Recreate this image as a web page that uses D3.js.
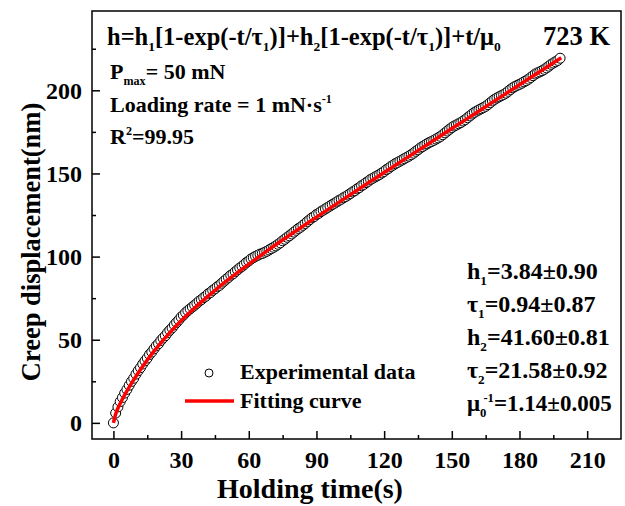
<!DOCTYPE html>
<html>
<head>
<meta charset="utf-8">
<script src="https://cdn.jsdelivr.net/npm/d3@7"></script>
<style>
  body { margin: 0; background: #fff; }
  svg text { font-family: "Liberation Serif", "Times New Roman", serif; font-weight: bold; fill: #000; }
</style>
</head>
<body>
<svg id="chart" width="625" height="506"></svg>
<script>
// experimental creep data, one sample per second starting at t = 0
const sampleStep = 1;
const creepData = [
  0.0, 5.9, 9.6, 12.8, 15.2, 17.9, 20.1, 22.6, 24.9, 26.8,
  29.3, 31.4, 33.2, 35.4, 37.3, 39.0, 41.1, 42.6, 44.5, 46.3,
  47.6, 49.5, 51.0, 52.4, 54.2, 55.7, 57.1, 58.9, 60.4, 61.9,
  63.6, 64.8, 66.3, 67.5, 68.6, 69.7, 70.8, 71.9, 73.2, 74.1,
  75.3, 76.2, 77.6, 78.4, 79.7, 80.6, 81.8, 82.7, 84.0, 85.2,
  86.4, 87.5, 88.8, 89.6, 90.9, 92.0, 93.2, 94.1, 95.3, 96.5,
  97.4, 98.6, 99.3, 100.2, 100.8, 101.5, 101.9, 102.6, 103.2, 104.0,
  104.8, 105.6, 106.4, 107.4, 108.3, 109.5, 110.4, 111.6, 112.5, 113.6,
  114.7, 115.8, 116.9, 117.7, 118.8, 119.9, 121.1, 122.2, 123.3, 124.1,
  125.3, 126.0, 127.1, 127.9, 128.7, 129.6, 130.4, 131.3, 132.1, 132.9,
  133.8, 134.5, 135.4, 136.1, 137.0, 137.9, 138.9, 139.6, 140.7, 141.5,
  142.6, 143.4, 144.5, 145.3, 146.4, 147.1, 147.9, 148.6, 149.4, 150.3,
  151.2, 152.3, 153.1, 154.2, 155.0, 155.9, 156.6, 157.4, 158.1, 158.9,
  159.7, 160.4, 161.3, 162.2, 163.3, 164.2, 165.3, 166.1, 167.0, 167.8,
  168.6, 169.2, 169.9, 170.7, 171.4, 172.3, 173.3, 174.4, 175.5, 176.6,
  177.6, 178.5, 179.1, 179.9, 180.6, 181.5, 182.4, 183.5, 184.6, 185.7,
  186.7, 187.5, 188.2, 188.9, 189.6, 190.4, 191.4, 192.5, 193.6, 194.6,
  195.4, 196.1, 196.8, 197.5, 198.3, 199.4, 200.5, 201.5, 202.3, 203.0,
  203.6, 204.3, 205.1, 205.8, 206.7, 207.7, 208.8, 209.8, 210.5, 211.1,
  211.8, 212.6, 213.5, 214.5, 215.6, 216.4, 217.2, 218.0, 219.3
];

// fitting curve
const fitTime = [0, 1, 2, 3, 4, 5, 6, 8, 10, 12, 15, 18, 21, 25, 30, 35, 40, 45, 50,
  60, 70, 80, 90, 100, 110, 120, 130, 140, 150, 160, 170, 180, 190, 198.5];
const fitValue = [0, 5.28, 8.81, 11.71, 14.34, 16.81, 19.19, 23.74, 28.04, 32.11, 37.84,
  43.16, 48.14, 54.31, 61.40, 67.92, 74.01, 79.74, 85.20, 95.49, 105.22, 114.60, 123.75,
  132.76, 141.68, 150.54, 159.38, 168.19, 176.98, 185.76, 194.54, 203.32, 212.11, 219.56];

const xTicks = [0, 30, 60, 90, 120, 150, 180, 210];
const yTicks = [0, 50, 100, 150, 200];

const svg = d3.select('#chart');
const plotL = 92, plotR = 621, plotT = 11, plotB = 439;

const x = d3.scaleLinear().domain([-9.5, 225]).range([plotL, plotR]);
const y = d3.scaleLinear().domain([-9.7, 247.7]).range([plotB, plotT]);

// frame
svg.append('rect')
  .attr('x', plotL).attr('y', plotT)
  .attr('width', plotR - plotL).attr('height', plotB - plotT)
  .attr('fill', 'none').attr('stroke', '#000').attr('stroke-width', 1.5);

// minor ticks
const xMinor = d3.range(15, 225, 30);
const yMinor = d3.range(25, 247, 50);

const xAxis = svg.append('g').attr('transform', `translate(0,${plotB})`);
xAxis.call(d3.axisBottom(x).tickValues(xTicks).tickSizeInner(-8).tickSizeOuter(0).tickPadding(12));
xAxis.append('g').call(d3.axisBottom(x).tickValues(xMinor).tickSizeInner(-4).tickSizeOuter(0).tickFormat(''));

const yAxis = svg.append('g').attr('transform', `translate(${plotL},0)`);
yAxis.call(d3.axisLeft(y).tickValues(yTicks).tickSizeInner(-8).tickSizeOuter(0).tickPadding(10));
yAxis.append('g').call(d3.axisLeft(y).tickValues(yMinor).tickSizeInner(-4).tickSizeOuter(0).tickFormat(''));

svg.selectAll('.domain').remove();
svg.selectAll('.tick line').attr('stroke', '#000').attr('stroke-width', 1.5);
svg.selectAll('.tick text').style('font-size', '24px').attr('fill', '#000');
xAxis.selectAll('.tick text').attr('dy', '0.71em');

// axis titles
svg.append('text')
  .attr('x', 310).attr('y', 498)
  .attr('text-anchor', 'middle')
  .style('font-size', '28px')
  .text('Holding time(s)');

svg.append('text')
  .attr('transform', `translate(40,242) rotate(-90)`)
  .attr('text-anchor', 'middle')
  .style('font-size', '26.5px')
  .text('Creep displacement(nm)');

// data
const points = creepData.map((v, i) => ({ t: i * sampleStep, h: v }));
svg.append('g').selectAll('circle')
  .data(points)
  .enter()
  .append('circle')
  .attr('cx', d => x(d.t))
  .attr('cy', d => y(d.h))
  .attr('r', 5)
  .attr('fill', '#fff')
  .attr('stroke', '#000')
  .attr('stroke-width', 1);

const fitLine = d3.line()
  .x((d, i) => x(fitTime[i]))
  .y(d => y(d))
  .curve(d3.curveMonotoneX);

svg.append('path')
  .datum(fitValue)
  .attr('d', fitLine)
  .attr('fill', 'none')
  .attr('stroke', '#ff0000')
  .attr('stroke-width', 3.5);

// text with sub/superscripts: parts are [text, 'sub'|'sup'|null, dx]
function richText(px, py, size, parts) {
  const t = svg.append('text').attr('x', px).attr('y', py).style('font-size', size + 'px');
  let shift = 0;
  parts.forEach(p => {
    const span = t.append('tspan').text(p[0]);
    let target = 0;
    if (p[1] === 'sub') target = size * 0.25;
    if (p[1] === 'sup') target = -size * 0.4;
    span.attr('dy', target - shift);
    if (p[2]) span.attr('dx', p[2]);
    shift = target;
    if (p[1]) span.style('font-size', (size * 0.55) + 'px');
  });
  return t;
}

richText(107, 45, 24.5, [['h=h'], ['1', 'sub'], ['[1-exp(-t/τ'], ['1', 'sub'], [')]+h'], ['2', 'sub'],
  ['[1-exp(-t/τ'], ['1', 'sub'], [')]+t/μ'], ['0', 'sub']]);
svg.append('text').attr('x', 543).attr('y', 45).style('font-size', '26.5px').text('723 K');

richText(110, 79, 22, [['P'], ['max', 'sub'], ['= 50 mN']]);
richText(110, 112, 22, [['Loading rate = 1 mN·s'], ['-1', 'sup']]);
richText(110, 144, 22, [['R'], ['2', 'sup'], ['=99.95']]);

richText(467, 279, 24, [['h'], ['1', 'sub'], ['=3.84±0.90']]);
richText(467, 312, 24, [['τ'], ['1', 'sub'], ['=0.94±0.87']]);
richText(467, 345, 24, [['h'], ['2', 'sub'], ['=41.60±0.81']]);
richText(467, 378, 24, [['τ'], ['2', 'sub'], ['=21.58±0.92']]);
richText(467, 411, 23, [['μ'], ['0', 'sub'], ['-1', 'sup', -3], ['=1.14±0.005']]);

// legend
svg.append('circle').attr('cx', 209).attr('cy', 373).attr('r', 4)
  .attr('fill', '#fff').attr('stroke', '#000').attr('stroke-width', 1);
svg.append('text').attr('x', 240).attr('y', 379).style('font-size', '22px').text('Experimental data');
svg.append('line').attr('x1', 185).attr('x2', 234).attr('y1', 401).attr('y2', 401)
  .attr('stroke', '#ff0000').attr('stroke-width', 3.5);
svg.append('text').attr('x', 240).attr('y', 408).style('font-size', '22px').text('Fitting curve');
</script>
</body>
</html>
